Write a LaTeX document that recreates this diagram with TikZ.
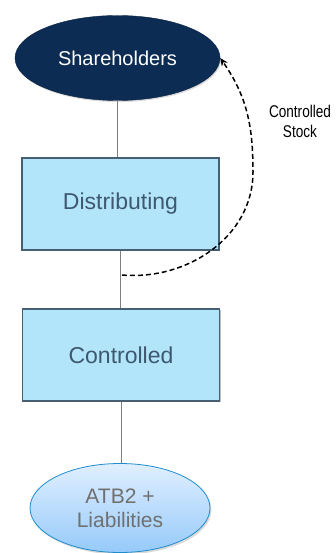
\documentclass[tikz,border=0pt]{standalone}
\usepackage{fontspec}
\setmainfont{Liberation Sans}
\newfontfamily\narrowfont[FakeStretch=0.8]{Liberation Sans}
\usepackage{tikz}
\usetikzlibrary{shapes.geometric,shadows,arrows.meta}
\definecolor{navy}{RGB}{12,44,84}
\definecolor{boxfill}{RGB}{178,229,250}
\definecolor{boxline}{RGB}{70,95,115}
\definecolor{boxtext}{RGB}{62,88,112}
\definecolor{atbtop}{RGB}{224,239,255}
\definecolor{atbbot}{RGB}{150,202,250}
\definecolor{atbline}{RGB}{30,140,205}
\definecolor{atbtext}{RGB}{112,112,112}
\definecolor{linkgrey}{RGB}{128,128,128}

\begin{document}
\begin{tikzpicture}[x=1pt,y=1pt,
    owner/.style={ellipse,fill=navy,draw=navy!80!black,minimum width=205pt,minimum height=85pt,inner sep=0pt,
        text=white,font=\fontsize{20}{22}\selectfont,drop shadow={shadow xshift=1pt,shadow yshift=-1.5pt,opacity=0.3}},
    entity/.style={rectangle,fill=boxfill,draw=boxline,line width=1.2pt,minimum width=197pt,minimum height=92pt,
        text=boxtext,font=\fontsize{23}{26}\selectfont,drop shadow={shadow xshift=1.2pt,shadow yshift=-1.2pt,opacity=0.5}},
    assets/.style={ellipse,top color=atbtop,bottom color=atbbot,draw=atbline,line width=0.8pt,minimum width=180pt,
        minimum height=89pt,inner sep=0pt,text=atbtext,align=center,font=\fontsize{21}{24}\selectfont,
        drop shadow={shadow xshift=1.5pt,shadow yshift=-2pt,opacity=0.3}},
    link/.style={draw=linkgrey,line width=1pt},
    flow/.style={dashed,dash pattern=on 5pt off 3pt,line width=1.5pt,-{Stealth[length=8pt,width=7pt]}}]
    \useasboundingbox (0,0) rectangle (335,-553);
    \node[owner] (share) at (117.5,-58) {Shareholders};
    \node[entity] (dist) at (120.5,-204) {Distributing};
    \node[entity] (ctrl) at (121,-355) {Controlled};
    \node[assets] (atb) at (120,-508) {ATB2 +\\Liabilities};
    \draw[link] (share.south) -- (share.south |- dist.north);
    \draw[link] (dist.south) -- (dist.south |- ctrl.north);
    \draw[link] (ctrl.south) -- (ctrl.south |- atb.north);
    \coordinate (split) at (122,-275);
    \draw[flow] (split) to[out=-5,in=-90] (253,-172) to[out=90,in=-55] (share.east);
    \node[align=center,font=\narrowfont\fontsize{17}{20}\selectfont] (stock) at (300,-121) {Controlled\\Stock};
\end{tikzpicture}
\end{document}
